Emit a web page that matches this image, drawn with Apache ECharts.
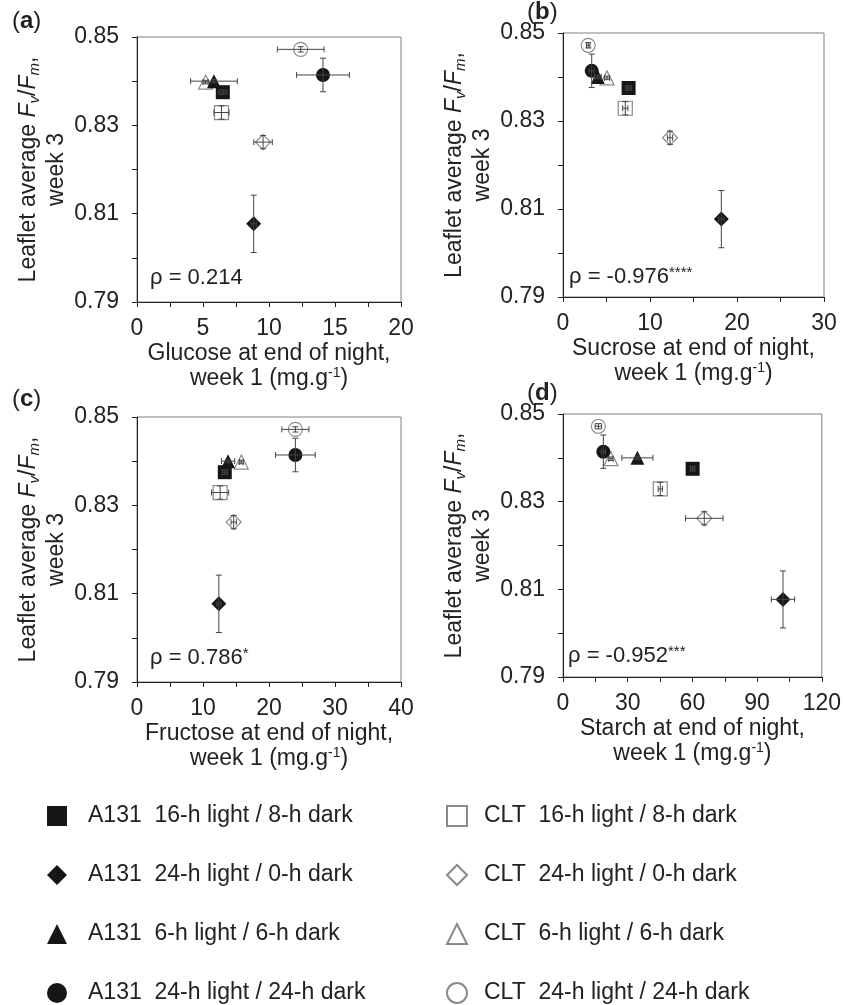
<!DOCTYPE html>
<html>
<head>
    <meta charset="utf-8">
    <title>Fv/Fm vs sugars</title>
    <script src="https://cdn.jsdelivr.net/npm/echarts@6/dist/echarts.min.js"></script>
</head>
<body style="margin:0;background:#fff">
<div id="main" style="width:844px;height:1005px;"></div>
<script type="text/javascript">
    // series names (legend order)
    var names = [
        'A131  16-h light / 8-h dark',
        'A131  24-h light / 0-h dark',
        'A131  6-h light / 6-h dark',
        'A131  24-h light / 24-h dark',
        'CLT  16-h light / 8-h dark',
        'CLT  24-h light / 0-h dark',
        'CLT  6-h light / 6-h dark',
        'CLT  24-h light / 24-h dark'
    ];
    // leaflet average Fv/Fm, week 3 (same for all panels)
    var fvfm    = [0.8375, 0.8077, 0.8400, 0.8414, 0.8329, 0.8262, 0.8398, 0.8472];
    var fvfmErr = [0.0005, 0.0065, 0.0004, 0.0038, 0.0015, 0.0015, 0.0004, 0.0006];
    // end of night, week 1 (mg.g-1)
    var glucose     = [6.5, 8.84, 5.83, 14.09, 6.4, 9.55, 5.2, 12.4];
    var glucoseErr  = [0.3, 0.2, 1.77, 2.0, 0.57, 0.7, 0.2, 1.77];
    var sucrose     = [7.54, 18.2, 4.0, 3.3, 7.16, 12.3, 5.06, 2.9];
    var sucroseErr  = [0.3, 0.3, 0.4, 0.3, 0.3, 0.3, 0.3, 0.2];
    var fructose    = [13.3, 12.4, 13.8, 24.0, 12.6, 14.65, 15.8, 24.0];
    var fructoseErr = [0.4, 0.3, 1.0, 3.0, 1.3, 0.4, 0.3, 2.05];
    var starch      = [60.1, 102, 34.5, 18.7, 45.1, 65.5, 22.2, 16.4];
    var starchErr   = [1.0, 5.4, 7.2, 1.0, 1.0, 8.7, 1.0, 1.5];

    var xNames = ['Glucose', 'Sucrose', 'Fructose', 'Starch'];
    var xMax = [20, 30, 40, 120];
    var xStep = [5, 10, 10, 30];
    var rhoText = ['ρ = 0.214', 'ρ = -0.976', 'ρ = 0.786', 'ρ = -0.952'];
    var rhoStars = ['', '****', '*', '***'];
    var tags = ['a', 'b', 'c', 'd'];

    var xData = [glucose, sucrose, fructose, starch];
    var xErr = [glucoseErr, sucroseErr, fructoseErr, starchErr];

    var font = 'Liberation Sans';
    var ink = '#222';
    var symbols = ['rect', 'diamond', 'triangle', 'circle'];
    var sizes = [14, 15, 14, 14];

    var grids = [
        {left: 137, top: 37, width: 264, height: 265},
        {left: 563, top: 33, width: 261, height: 264},
        {left: 137, top: 417, width: 264, height: 265},
        {left: 563, top: 414, width: 261, height: 263}
    ];
    var tagPos = [[12, 21], [527, 12], [12, 399], [527, 393]];
    var rhoPos = [[150, 278], [569, 277], [150, 658], [568, 656]];

    // error bars with caps
    function drawErr(params, api) {
        var x = api.value(0), y = api.value(1), xe = api.value(2), ye = api.value(3);
        var l = api.coord([x - xe, y]), r = api.coord([x + xe, y]);
        var t = api.coord([x, y + ye]), b = api.coord([x, y - ye]);
        var cap = 3;
        var st = {stroke: '#444', lineWidth: 1};
        return {
            type: 'group',
            children: [
                {type: 'line', shape: {x1: l[0], y1: l[1], x2: r[0], y2: r[1]}, style: st},
                {type: 'line', shape: {x1: l[0], y1: l[1] - cap, x2: l[0], y2: l[1] + cap}, style: st},
                {type: 'line', shape: {x1: r[0], y1: r[1] - cap, x2: r[0], y2: r[1] + cap}, style: st},
                {type: 'line', shape: {x1: t[0], y1: t[1], x2: b[0], y2: b[1]}, style: st},
                {type: 'line', shape: {x1: t[0] - cap, y1: t[1], x2: t[0] + cap, y2: t[1]}, style: st},
                {type: 'line', shape: {x1: b[0] - cap, y1: b[1], x2: b[0] + cap, y2: b[1]}, style: st}
            ]
        };
    }

    var xAxes = [], yAxes = [], series = [], graphic = [];

    for (var p = 0; p < 4; p++) {
        grids[p].show = true;
        grids[p].borderColor = '#808080';
        grids[p].borderWidth = 1;

        xAxes.push({
            gridIndex: p, type: 'value', min: 0, max: xMax[p], interval: xStep[p],
            axisLine: {show: true, onZero: false, lineStyle: {color: ink}},
            axisTick: {length: 5, lineStyle: {color: ink}},
            minorTick: {show: true, splitNumber: 2, length: 5, lineStyle: {color: ink}},
            splitLine: {show: false},
            axisLabel: {margin: 15, fontSize: 23, fontFamily: font, color: ink},
            name: xNames[p] + ' at end of night,\nweek 1 (mg.g{sup|-1})',
            nameLocation: 'middle', nameGap: 39,
            nameTextStyle: {
                fontSize: 23, fontFamily: font, color: ink, lineHeight: 25,
                rich: {sup: {fontSize: 14, fontFamily: font, color: ink, verticalAlign: 'top', lineHeight: 14}}
            }
        });
        yAxes.push({
            gridIndex: p, type: 'value', min: 0.79, max: 0.85, interval: 0.02,
            axisLine: {show: true, onZero: false, lineStyle: {color: ink}},
            axisTick: {length: 5, lineStyle: {color: ink}},
            minorTick: {show: true, splitNumber: 2, length: 5, lineStyle: {color: ink}},
            splitLine: {show: false},
            axisLabel: {
                margin: 18, fontSize: 23, fontFamily: font, color: ink,
                formatter: function (v) { return v.toFixed(2); }
            },
            name: 'Leaflet average {i|F}{sub|v}/{i|F}{sub|m},\nweek 3',
            nameLocation: 'middle', nameRotate: 90, nameGap: 64,
            nameTextStyle: {
                fontSize: 23, fontFamily: font, color: ink, lineHeight: 28,
                rich: {
                    i: {fontSize: 23, fontFamily: font, color: ink, fontStyle: 'italic'},
                    sub: {fontSize: 15, fontFamily: font, color: ink, fontStyle: 'italic', verticalAlign: 'bottom', lineHeight: 15}
                }
            }
        });

        for (var k = 0; k < 8; k++) {
            series.push({
                type: 'scatter', name: names[k], xAxisIndex: p, yAxisIndex: p,
                symbol: symbols[k % 4], symbolSize: sizes[k % 4], z: k < 4 ? 3 : 2,
                itemStyle: k < 4
                    ? {color: '#161616', opacity: 1}
                    : {color: '#fff', borderColor: '#8a8a8a', borderWidth: 1.2, opacity: 1},
                data: [[xData[p][k], fvfm[k]]]
            });
        }
        series.push({
            type: 'custom', name: 'err' + p, xAxisIndex: p, yAxisIndex: p, z: 4, silent: true,
            renderItem: drawErr, encode: {x: 0, y: 1},
            data: names.map(function (n, k) { return [xData[p][k], fvfm[k], xErr[p][k], fvfmErr[k]]; })
        });

        graphic.push({
            type: 'text', x: tagPos[p][0], y: tagPos[p][1],
            style: {
                text: '({b|' + tags[p] + '})', fontSize: 24, fontFamily: font, fill: ink, verticalAlign: 'middle',
                rich: {b: {fontSize: 24, fontFamily: font, fontWeight: 'bold', fill: ink}}
            }
        });
        graphic.push({
            type: 'text', x: rhoPos[p][0], y: rhoPos[p][1],
            style: {
                text: rhoText[p] + (rhoStars[p] ? '{s|' + rhoStars[p] + '}' : ''),
                fontSize: 22, fontFamily: font, fill: ink, verticalAlign: 'middle', lineHeight: 24,
                rich: {s: {fontSize: 15, fontFamily: font, fill: ink, verticalAlign: 'top', lineHeight: 15}}
            }
        });
    }

    var legendText = {fontSize: 23, fontFamily: font, color: ink, lineHeight: 24};
    var myChart = echarts.init(document.getElementById('main'));
    myChart.setOption({
        animation: false,
        backgroundColor: '#fff',
        grid: grids,
        xAxis: xAxes,
        yAxis: yAxes,
        legend: [
            {
                data: names.slice(0, 4), orient: 'vertical', left: 47, top: 804, padding: 0,
                itemWidth: 20, itemHeight: 20, itemGap: 35, selectedMode: false,
                textStyle: Object.assign({padding: [0, 0, 0, 16]}, legendText)
            },
            {
                data: names.slice(4), orient: 'vertical', left: 446, top: 804, padding: 0,
                itemWidth: 20, itemHeight: 20, itemGap: 35, selectedMode: false,
                textStyle: Object.assign({padding: [0, 0, 0, 12]}, legendText)
            }
        ],
        graphic: graphic,
        series: series
    });
</script>
</body>
</html>
